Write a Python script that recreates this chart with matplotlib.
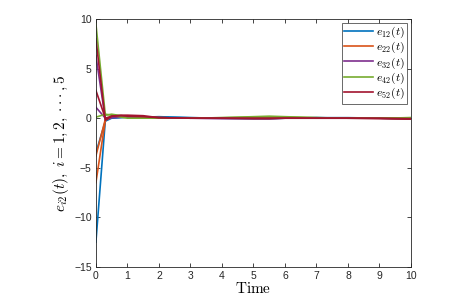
import matplotlib
matplotlib.use("Agg")
import matplotlib.pyplot as plt
import numpy as np

plt.rcParams['mathtext.fontset'] = 'cm'
plt.rcParams['font.family'] = ['Liberation Sans', 'DejaVu Sans']

t = [0, 0.3, 0.5, 0.8, 1.0, 1.5, 2.0, 3.0, 4.0, 5.0, 5.5, 6.0, 7.0, 8.0, 9.0, 10.0]

# two components per error signal
e12_a = [-12.5, -0.2, 0.05, 0.1, 0.1, 0.1, 0.15, 0.05, 0.0, -0.05, -0.05, 0.0, 0.05, 0.05, 0.0, -0.05]
e12_b = [-3.5, -0.3, 0.0, 0.05, 0.1, 0.05, 0.1, 0.05, 0.0, 0.0, 0.0, 0.0, 0.05, 0.0, 0.0, -0.05]
e22_a = [-6.5, -0.2, 0.1, 0.1, 0.1, 0.05, 0.05, 0.0, 0.0, 0.05, 0.05, 0.05, 0.0, 0.0, 0.0, -0.05]
e22_b = [-3.8, -0.1, 0.1, 0.15, 0.15, 0.1, 0.05, 0.0, 0.0, 0.05, 0.05, 0.0, 0.0, 0.0, 0.0, 0.0]
e32_a = [6.3, -0.1, 0.1, 0.1, 0.15, 0.1, 0.05, 0.0, -0.05, -0.05, -0.05, 0.0, 0.0, 0.0, 0.0, 0.0]
e32_b = [1.1, 0.0, 0.05, 0.1, 0.1, 0.05, 0.05, 0.0, 0.0, 0.0, 0.0, 0.0, 0.0, 0.0, 0.0, 0.0]
e42_a = [9.5, 0.3, 0.4, 0.25, 0.2, 0.1, 0.05, 0.0, 0.05, 0.15, 0.2, 0.15, 0.05, 0.0, 0.0, 0.05]
e42_b = [0.1, 0.4, 0.3, 0.1, 0.0, 0.0, 0.0, 0.0, 0.05, 0.1, 0.1, 0.1, 0.05, 0.0, 0.0, 0.05]
e52_a = [8.0, -0.2, 0.2, 0.3, 0.3, 0.25, 0.05, 0.0, 0.0, -0.05, -0.05, 0.0, 0.0, 0.0, -0.05, -0.1]
e52_b = [2.8, 0.0, 0.2, 0.25, 0.2, 0.15, 0.05, 0.0, 0.0, 0.0, 0.0, 0.0, 0.0, 0.0, 0.0, -0.05]

series = [
    (r'$e_{12}(t)$', '#0072BD', e12_a, e12_b),
    (r'$e_{22}(t)$', '#D95319', e22_a, e22_b),
    (r'$e_{32}(t)$', '#7E2F8E', e32_a, e32_b),
    (r'$e_{42}(t)$', '#77AC30', e42_a, e42_b),
    (r'$e_{52}(t)$', '#A2142F', e52_a, e52_b),
]

fig = plt.figure(figsize=(4.61, 3.06), dpi=100)
ax = fig.add_axes([0.208, 0.1275, 0.6835, 0.8105])

for label, color, a, b in series:
    ax.plot(t, a, color=color, lw=1.2, label=label)
    ax.plot(t, b, color=color, lw=1.2)

ax.set_xlim(0, 10)
ax.set_ylim(-15, 10)
ax.set_xticks(range(0, 11))
ax.set_yticks([-15, -10, -5, 0, 5, 10])
ax.tick_params(direction='in', length=3, width=0.6, labelsize=7.5,
               colors='#262626', top=True, right=True, pad=3)
for s in ax.spines.values():
    s.set_linewidth(0.6)
    s.set_color('#262626')

ax.set_xlabel(r'$\mathrm{Time}$', fontsize=11, labelpad=0)
ax.set_ylabel(r'$e_{i2}(t),\ i=1,2,\cdot\!\cdot\!\cdot,5$', fontsize=11, labelpad=2)

leg = ax.legend(loc='upper right', fontsize=8.5, frameon=True, fancybox=False,
                edgecolor='#262626', handlelength=2.4, borderpad=0.2,
                labelspacing=0.0, handletextpad=0.3, borderaxespad=0.3)
leg.get_frame().set_linewidth(0.6)

fig.savefig('out.png', dpi=100)
